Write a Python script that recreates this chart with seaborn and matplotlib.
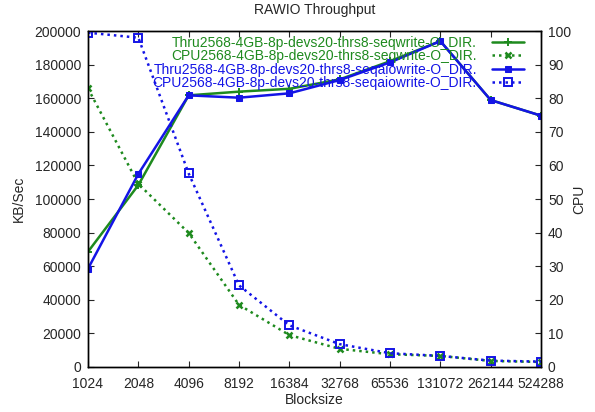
import matplotlib
matplotlib.use("Agg")
import matplotlib.pyplot as plt
import seaborn as sns
import pandas as pd

blocksizes = [1024, 2048, 4096, 8192, 16384, 32768, 65536, 131072, 262144, 524288]
thru_seqwrite = [68600, 108300, 161700, 163900, 165600, 171200, 182000, 194000, 158900, 149600]
cpu_seqwrite = [82.9, 54.5, 39.9, 18.5, 9.5, 5.4, 3.8, 3.3, 1.8, 1.5]
thru_seqaio = [58500, 114900, 161700, 160300, 162900, 170800, 181300, 194000, 158900, 149600]
cpu_seqaio = [99.5, 98.0, 57.6, 24.3, 12.4, 6.8, 4.1, 3.3, 1.9, 1.6]

labels = ["Thru2568-4GB-8p-devs20-thrs8-seqwrite-O_DIR.",
          "CPU2568-4GB-8p-devs20-thrs8-seqwrite-O_DIR.",
          "Thru2568-4GB-8p-devs20-thrs8-seqaiowrite-O_DIR.",
          "CPU2568-4GB-8p-devs20-thrs8-seqaiowrite-O_DIR."]

sns.set_style("ticks")
plt.rcParams['font.family'] = ['Liberation Sans', 'DejaVu Sans']

green = "#1e8a1e"
blue = "#1414e6"
dot = (0, (1, 1.6))

fig = plt.figure(figsize=(5.95, 4.12), dpi=100)
ax = fig.add_axes([88/595, 1-367/412, (541-88)/595, (367-31)/412])
ax2 = ax.twinx()

df = pd.DataFrame({"bs": blocksizes, "t1": thru_seqwrite, "c1": cpu_seqwrite,
                   "t2": thru_seqaio, "c2": cpu_seqaio})

sns.lineplot(data=df, x="bs", y="t1", ax=ax, color=green, lw=1.8, marker="+",
             markersize=6, mew=1.4, mec=green, label=labels[0], legend=False)
sns.lineplot(data=df, x="bs", y="t2", ax=ax, color=blue, lw=1.8, marker="s",
             markersize=4.5, mec=blue, mfc=blue, label=labels[2], legend=False)
sns.lineplot(data=df, x="bs", y="c1", ax=ax2, color=green, lw=1.8, marker="x",
             markersize=4.5, mew=1.8, mec=green, linestyle=dot, label=labels[1], legend=False)
sns.lineplot(data=df, x="bs", y="c2", ax=ax2, color=blue, lw=1.8, marker="s",
             markersize=5.5, mfc="none", mec=blue, mew=1.4, linestyle=dot, label=labels[3], legend=False)

ax.set_xscale("log", base=2)
ax.set_xlim(1024, 524288)
ax.set_xticks(blocksizes)
ax.set_xticklabels([str(b) for b in blocksizes])
ax.minorticks_off()
ax2.minorticks_off()
ax.set_ylim(0, 200000)
ax.set_yticks(range(0, 200001, 20000))
ax2.set_ylim(0, 100)
ax2.set_yticks(range(0, 101, 10))

fs = 10
ax.tick_params(axis="x", direction="in", labelsize=fs, length=4, top=True, pad=7)
ax.tick_params(axis="y", direction="in", labelsize=fs, length=4, pad=5)
ax2.tick_params(axis="y", direction="in", labelsize=fs, length=4, pad=5)
for a in (ax, ax2):
    for s in a.spines.values():
        s.set_linewidth(1.0)
        s.set_color("black")
        s.set_visible(True)

ax.set_xlabel("Blocksize", fontsize=fs, labelpad=2)
ax.set_ylabel("KB/Sec", fontsize=fs, labelpad=6)
ax2.set_ylabel("CPU", fontsize=fs, labelpad=1)
ax.set_title("RAWIO Throughput", fontsize=fs, pad=12)

h1, l1 = ax.get_legend_handles_labels()
h2, l2 = ax2.get_legend_handles_labels()
handles = [h1[0], h2[0], h1[1], h2[1]]
labs = [l1[0], l2[0], l1[1], l2[1]]
leg = ax2.legend(handles, labs, loc="upper right", bbox_to_anchor=(0.984, 1.015),
                 markerfirst=False, frameon=False, fontsize=fs, labelspacing=-0.04,
                 handlelength=2.3, handletextpad=1.1, borderpad=0.2,
                 labelcolor="linecolor")

fig.savefig("out.png", dpi=100)
